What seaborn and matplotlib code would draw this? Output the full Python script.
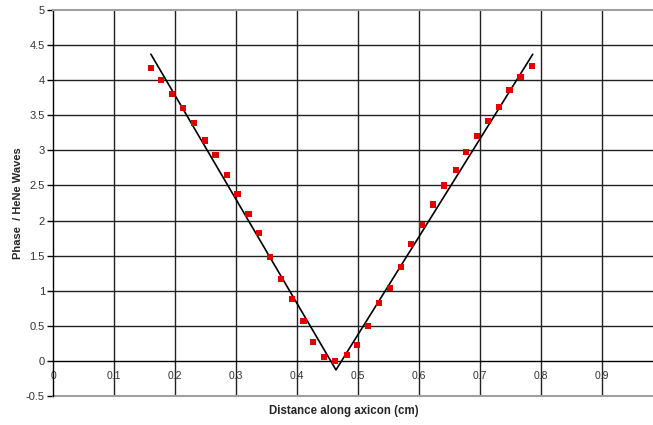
import matplotlib
matplotlib.use("Agg")
import matplotlib.pyplot as plt
import seaborn as sns
import pandas as pd

# measured phase points
distance = [0.160, 0.177, 0.195, 0.212, 0.231, 0.249, 0.266, 0.285, 0.302, 0.320,
            0.3375, 0.355, 0.373, 0.391, 0.410, 0.426, 0.444, 0.462, 0.481, 0.498,
            0.516, 0.534, 0.552, 0.570, 0.586, 0.605, 0.623, 0.641, 0.660, 0.677,
            0.695, 0.712, 0.731, 0.748, 0.766, 0.785]
phase = [4.17, 4.00, 3.80, 3.60, 3.39, 3.14, 2.93, 2.65, 2.38, 2.09,
         1.82, 1.48, 1.17, 0.88, 0.565, 0.27, 0.06, 0.00, 0.08, 0.23,
         0.50, 0.82, 1.04, 1.34, 1.67, 1.94, 2.23, 2.50, 2.72, 2.98,
         3.20, 3.42, 3.62, 3.86, 4.04, 4.20]

# fitted V line
fit_x = [0.160, 0.4634, 0.786]
fit_y = [4.37, -0.128, 4.37]

x_ticks = [0, 0.1, 0.2, 0.3, 0.4, 0.5, 0.6, 0.7, 0.8, 0.9]
x_labels = ["0", "0.1", "0.2", "0.3", "0.4", "0.5", "0.6", "0.7", "0.8", "0.9"]
y_ticks = [-0.5, 0, 0.5, 1, 1.5, 2, 2.5, 3, 3.5, 4, 4.5, 5]
y_labels = ["-0.5", "0", "0.5", "1", "1.5", "2", "2.5", "3", "3.5", "4", "4.5", "5"]

sns.set_style("white")
plt.rcParams['font.family'] = ['Liberation Sans', 'DejaVu Sans']

df = pd.DataFrame({"x": distance, "y": phase})
fit = pd.DataFrame({"x": fit_x, "y": fit_y})

fig = plt.figure(figsize=(6.53, 4.25), dpi=100)
ax = fig.add_axes([53.3 / 653, 29 / 425, 610 / 653, 386 / 425])

grid_c = "#222222"
for xv in [0.1, 0.2, 0.3, 0.4, 0.5, 0.6, 0.7, 0.8, 0.9, 1.0]:
    ax.axvline(xv, color=grid_c, lw=1.0, zorder=0)
for yv in [0.5, 1, 1.5, 2, 2.5, 3, 3.5, 4, 4.5]:
    ax.axhline(yv, color=grid_c, lw=1.0, zorder=0)

sns.lineplot(data=fit, x="x", y="y", ax=ax, color="black", lw=1.2,
             sort=False, estimator=None, zorder=3)
sns.scatterplot(data=df, x="x", y="y", ax=ax, marker="s", s=20,
                color="#e00000", edgecolor="none", linewidth=0, zorder=4)

ax.set_xlim(0, 1)
ax.set_ylim(-0.5, 5)

ax.spines['bottom'].set_position(('data', 0))
ax.spines['bottom'].set_color('black')
ax.spines['bottom'].set_linewidth(1.0)
ax.spines['left'].set_color('black')
ax.spines['left'].set_linewidth(1.0)
ax.spines['top'].set_color('#a0a0a0')
ax.spines['top'].set_linewidth(1.5)
ax.spines['right'].set_visible(False)
ax.axhline(-0.5, color='#a0a0a0', lw=1.5, clip_on=False, zorder=1)

ax.set_xticks(x_ticks)
ax.set_xticklabels(x_labels)
ax.set_yticks(y_ticks)
ax.set_yticklabels(y_labels)
ax.tick_params(axis='x', length=0, pad=7, labelsize=7.5, colors='#333333')
ax.tick_params(axis='y', direction='out', length=4, width=1, color='black',
               pad=2, labelsize=8, labelcolor='#333333', left=True)

ax.set_xlabel("")
ax.set_ylabel("")
fig.text(344 / 653, 1 - 411 / 425, "Distance along axicon (cm)", ha='center',
         va='center', fontsize=8.3, fontweight='bold')
fig.text(18 / 653, 1 - 203 / 425, "Phase  / HeNe Waves", ha='center',
         va='center', rotation=90, fontsize=8, fontweight='bold')

fig.savefig("out.png", dpi=100)
